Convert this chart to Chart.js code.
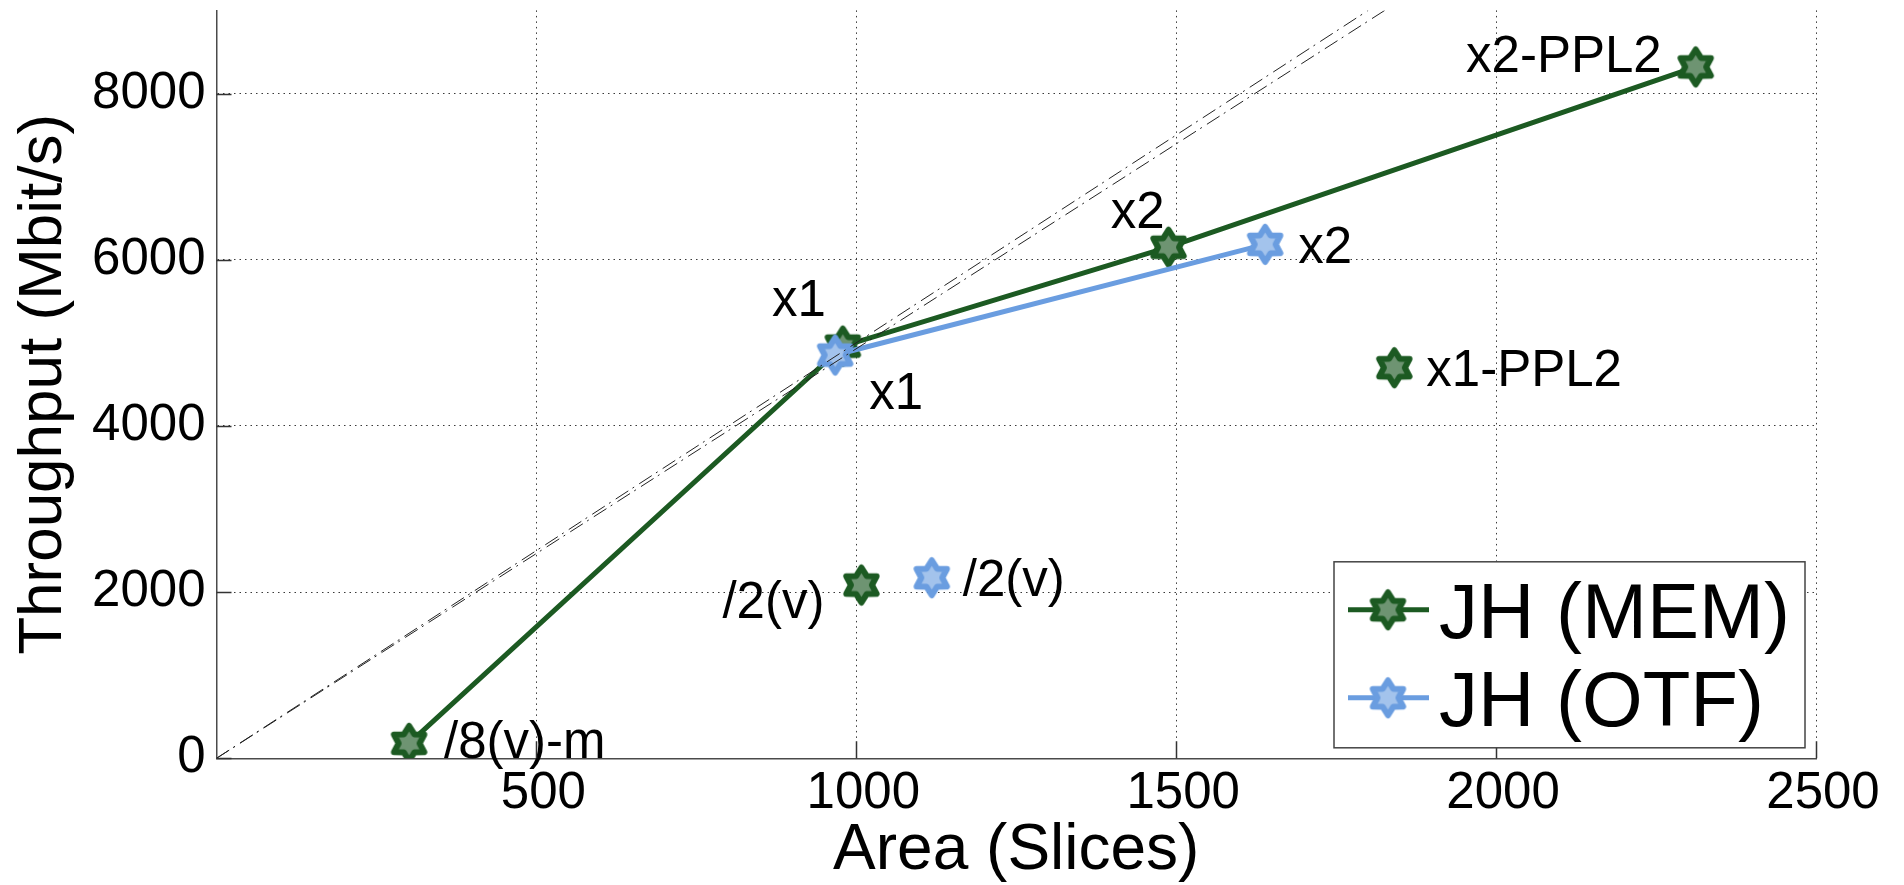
<!DOCTYPE html>
<html>
<head>
<meta charset="utf-8">
<script src="https://cdn.jsdelivr.net/npm/chart.js@4.4.0/dist/chart.umd.min.js"></script>
<style>
  html, body { margin: 0; padding: 0; background: #fff; overflow: hidden; }
  #wrap { width: 1904px; height: 885px; }
</style>
</head>
<body>
<div id="wrap"><canvas id="c" width="1904" height="885"></canvas></div>
<script>
// Area (slices) vs. throughput (Mbit/s) of the JH design points
const memArea = [301, 979, 1488, 2312];
const memThroughput = [180, 4960, 6150, 8320];
const memLabels = ['/8(v)-m', 'x1', 'x2', 'x2-PPL2'];

const otfArea = [967, 1639];
const otfThroughput = [4853, 6185];
const otfLabels = ['x1', 'x2'];

// stand-alone design points (not on the unrolling curve)
const memExtraArea = [1841, 1008];
const memExtraThroughput = [4700, 2085];
const memExtraLabels = ['x1-PPL2', '/2(v)'];

const otfExtraArea = [1118];
const otfExtraThroughput = [2173];
const otfExtraLabels = ['/2(v)'];

// linear-scaling reference lines from the origin
const refAArea = [0, 1800];
const refAThroughput = [0, 9000];
const refBArea = [0, 1826];
const refBThroughput = [0, 9000];

const seriesNames = ['JH (MEM)', 'JH (OTF)'];
const xTicks = [500, 1000, 1500, 2000, 2500];
const yTicks = [0, 2000, 4000, 6000, 8000];

// label placement next to each marker: [dx, dy, align] in pixels
const memLabelPos = [[35, -4, 'left'], [-17, -48, 'right'], [-4, -38, 'right'], [-34, -13, 'right']];
const otfLabelPos = [[34, 36, 'left'], [33, 0, 'left']];
const memExtraLabelPos = [[32, 0, 'left'], [-37, 15, 'right']];
const otfExtraLabelPos = [[31, 0, 'left']];

// plot rectangle inside the 1904 x 885 canvas
const PLOT = { left: 216.5, top: 10.4, right: 1816, bottom: 758.3 };

const FONT = '"Liberation Sans", Arial, Helvetica, sans-serif';
const MEM_STROKE = '#1c5a22';
const MEM_FILL = '#6e9472';
const OTF_STROKE = '#6a9de0';
const OTF_FILL = '#a3c3ec';

// six-pointed star marker
function hexagram(stroke, fill) {
  const R = 17.5, lw = 6;
  const size = 2 * (R + lw) + 2;
  const c = document.createElement('canvas');
  c.width = size; c.height = size;
  const g = c.getContext('2d');
  const cx = size / 2, cy = size / 2, r = R * 0.6;
  g.beginPath();
  for (let k = 0; k < 12; k++) {
    const a = -Math.PI / 2 + k * Math.PI / 6;
    const rr = (k % 2) ? r : R;
    g.lineTo(cx + rr * Math.cos(a), cy + rr * Math.sin(a));
  }
  g.closePath();
  g.fillStyle = fill;
  g.fill();
  g.lineJoin = 'round';
  g.lineWidth = lw;
  g.strokeStyle = stroke;
  g.stroke();
  return c;
}
const memMarker = hexagram(MEM_STROKE, MEM_FILL);
const otfMarker = hexagram(OTF_STROKE, OTF_FILL);

const pts = (xs, ys) => xs.map((x, i) => ({ x: x, y: ys[i] }));

// text next to the markers
const pointLabelPlugin = {
  id: 'pointLabels',
  afterDatasetsDraw(chart) {
    const ctx = chart.ctx;
    ctx.save();
    ctx.font = '51px ' + FONT;
    ctx.fillStyle = '#000';
    ctx.textBaseline = 'alphabetic';
    chart.data.datasets.forEach((ds, i) => {
      if (!ds.pointLabels) return;
      const meta = chart.getDatasetMeta(i);
      meta.data.forEach((el, j) => {
        const p = ds.labelPos[j];
        ctx.textAlign = p[2];
        ctx.fillText(ds.pointLabels[j], el.x + p[0], el.y + p[1] + 18.3);
      });
    });
    ctx.restore();
  }
};

// inward tick marks on both axes
const innerTicksPlugin = {
  id: 'innerTicks',
  afterDatasetsDraw(chart) {
    const { ctx, chartArea, scales } = chart;
    ctx.save();
    ctx.strokeStyle = '#333';
    ctx.lineWidth = 1.5;
    ctx.beginPath();
    yTicks.forEach(v => {
      const y = Math.round(scales.y.getPixelForValue(v)) + 0.5;
      ctx.moveTo(chartArea.left, y);
      ctx.lineTo(chartArea.left + 15, y);
    });
    xTicks.forEach(v => {
      const x = Math.round(scales.x.getPixelForValue(v)) + 0.5;
      ctx.moveTo(x, chartArea.bottom);
      ctx.lineTo(x, chartArea.bottom - 17);
    });
    ctx.stroke();
    ctx.restore();
  }
};

// boxed legend in the lower right corner of the plot
const boxLegendPlugin = {
  id: 'boxLegend',
  afterDraw(chart) {
    const { ctx, chartArea } = chart;
    const w = 471, h = 186;
    const x1 = chartArea.right - 11 - w;
    const y1 = chartArea.bottom - 10.5 - h;
    ctx.save();
    ctx.fillStyle = '#fff';
    ctx.fillRect(x1, y1, w, h);
    ctx.strokeStyle = '#444';
    ctx.lineWidth = 1.5;
    ctx.strokeRect(x1, y1, w, h);
    const rows = [
      { name: seriesNames[0], stroke: MEM_STROKE, marker: memMarker, y: y1 + 48 },
      { name: seriesNames[1], stroke: OTF_STROKE, marker: otfMarker, y: y1 + 136 }
    ];
    ctx.font = '78px ' + FONT;
    ctx.textAlign = 'left';
    ctx.textBaseline = 'alphabetic';
    rows.forEach(r => {
      ctx.strokeStyle = r.stroke;
      ctx.lineWidth = 5;
      ctx.beginPath();
      ctx.moveTo(x1 + 14, r.y);
      ctx.lineTo(x1 + 95, r.y);
      ctx.stroke();
      ctx.drawImage(r.marker, x1 + 54 - r.marker.width / 2, r.y - r.marker.height / 2);
      ctx.fillStyle = '#000';
      ctx.fillText(r.name, x1 + 105, r.y + 28);
    });
    ctx.restore();
  }
};

const plainNumber = v => String(v);
const gridStyle = { color: '#3a3a3a', lineWidth: 1, drawTicks: false };

new Chart(document.getElementById('c'), {
  type: 'scatter',
  data: {
    datasets: [
      {
        label: 'ref-a', data: pts(refAArea, refAThroughput), showLine: true,
        borderColor: '#222', borderWidth: 1, borderDash: [15, 5, 2, 6], pointRadius: 0, order: -1
      },
      {
        label: 'ref-b', data: pts(refBArea, refBThroughput), showLine: true,
        borderColor: '#222', borderWidth: 1, borderDash: [15, 5, 2, 6], pointRadius: 0, order: -1
      },
      {
        label: seriesNames[1], data: pts(otfArea, otfThroughput), showLine: true,
        borderColor: OTF_STROKE, borderWidth: 5, pointStyle: otfMarker, pointRadius: 20,
        pointLabels: otfLabels, labelPos: otfLabelPos, order: 0
      },
      {
        label: seriesNames[1] + ' extra', data: pts(otfExtraArea, otfExtraThroughput), showLine: false,
        pointStyle: otfMarker, pointRadius: 20,
        pointLabels: otfExtraLabels, labelPos: otfExtraLabelPos, order: 0
      },
      {
        label: seriesNames[0], data: pts(memArea, memThroughput), showLine: true,
        borderColor: MEM_STROKE, borderWidth: 5, pointStyle: memMarker, pointRadius: 20,
        pointLabels: memLabels, labelPos: memLabelPos, order: 1
      },
      {
        label: seriesNames[0] + ' extra', data: pts(memExtraArea, memExtraThroughput), showLine: false,
        pointStyle: memMarker, pointRadius: 20,
        pointLabels: memExtraLabels, labelPos: memExtraLabelPos, order: 1
      }
    ]
  },
  options: {
    responsive: false,
    animation: false,
    devicePixelRatio: 1,
    layout: { autoPadding: false, padding: { left: 0, right: 1904 - PLOT.right, top: PLOT.top, bottom: 0 } },
    plugins: { legend: { display: false }, tooltip: { enabled: false } },
    scales: {
      x: {
        type: 'linear', min: 0, max: 2500,
        afterBuildTicks: s => { s.ticks = xTicks.map(v => ({ value: v })); },
        afterFit: s => { s.height = 885 - PLOT.bottom; s.paddingLeft = 0; s.paddingRight = 0; },
        ticks: { autoSkip: false, maxRotation: 0, minRotation: 0, padding: 5, labelOffset: 7, color: '#000',
                 font: { family: FONT, size: 51 }, callback: plainNumber },
        grid: gridStyle,
        border: { display: true, color: '#4a4a4a', width: 1.5, dash: [1.5, 4] },
        title: { display: true, text: 'Area (Slices)', color: '#000',
                 font: { family: FONT, size: 64, lineHeight: 1 }, padding: { top: 0, bottom: 2 } }
      },
      y: {
        type: 'linear', min: 0, max: 9000,
        afterBuildTicks: s => { s.ticks = yTicks.map(v => ({ value: v })); },
        afterFit: s => { s.width = PLOT.left; s.paddingTop = 0; s.paddingBottom = 0; },
        ticks: { autoSkip: false, padding: 11, color: '#000',
                 font: { family: FONT, size: 51, lineHeight: 0.3 }, callback: plainNumber },
        grid: gridStyle,
        border: { display: true, color: '#4a4a4a', width: 1.5, dash: [1.5, 4] },
        title: { display: true, text: 'Throughput (Mbit/s)', color: '#000',
                 font: { family: FONT, size: 62, lineHeight: 1 }, padding: { top: 12.5, bottom: 0 } }
      }
    }
  },
  plugins: [pointLabelPlugin, innerTicksPlugin, boxLegendPlugin]
});
</script>
</body>
</html>
